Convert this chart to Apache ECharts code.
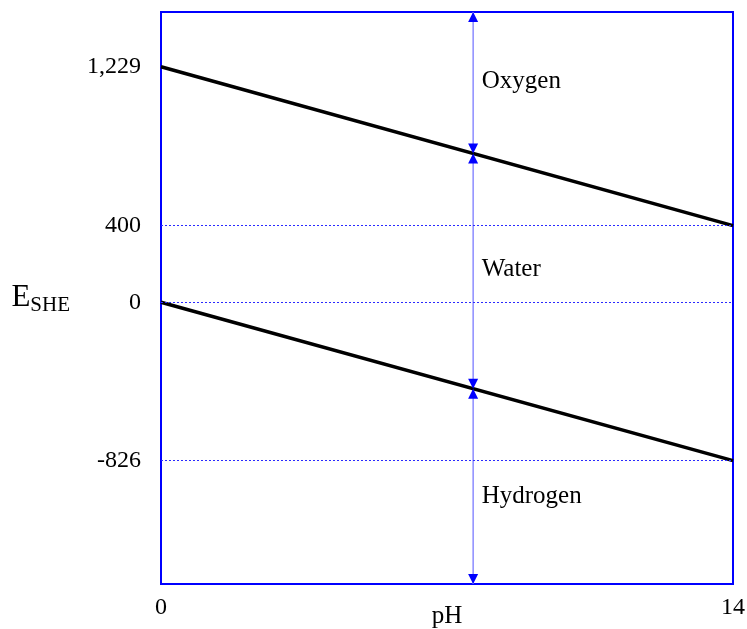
<!DOCTYPE html>
<html>
<head>
<meta charset="utf-8">
<script src="https://cdn.jsdelivr.net/npm/echarts@6/dist/echarts.min.js"></script>
<style>
  html, body { margin: 0; padding: 0; background: #ffffff; }
  #chart { width: 747px; height: 629px; }
</style>
</head>
<body>
<div id="chart"></div>
<script>
// pH range of the diagram
var phValues = [0, 14];
// Equilibrium potentials (mV vs SHE) at pH 0 and pH 14
var oxygenLine = [1229, 400];
var hydrogenLine = [0, -826];
// Labelled potentials on the E axis
var potentialTicks = [-826, 0, 400, 1229];
// Reference levels drawn as dotted guides
var guideLevels = [400, 0, -826];
// Vertical marker at a chosen pH with its crossing points
var markerPh = 7.64;
var markerOxygen = 777;
var markerHydrogen = -451;
// Region names and where they are written
var regionNames = ['Oxygen', 'Water', 'Hydrogen'];
var regionPotentials = [1151, 170, -1013];
var regionPh = 7.85;

var yMin = -1470, yMax = 1515;
var FONT = 'Liberation Serif';
var BLUE = '#0000ff';

function fmt(v) {
  return v.toLocaleString('en-US');
}

var chart = echarts.init(document.getElementById('chart'), null, { renderer: 'canvas' });

// arrowheads: tips placed at the marker ends and at the crossings
var upTips = [[markerPh, yMax], [markerPh, markerOxygen], [markerPh, markerHydrogen]];
var downTips = [[markerPh, markerOxygen], [markerPh, markerHydrogen], [markerPh, yMin]];

var option = {
  animation: false,
  backgroundColor: '#ffffff',
  grid: {
    left: 161, top: 12, right: 14, bottom: 45,
    outerBoundsMode: 'none', containLabel: false,
    show: true, borderColor: BLUE, borderWidth: 2, backgroundColor: 'transparent'
  },
  xAxis: {
    type: 'value',
    min: phValues[0], max: phValues[1], interval: 14,
    name: 'pH', nameLocation: 'middle', nameGap: 20, nameMoveOverlap: false,
    nameTextStyle: { fontFamily: FONT, fontSize: 25, color: '#000' },
    axisLine: { show: false },
    axisTick: { show: false },
    splitLine: { show: false },
    axisLabel: { fontFamily: FONT, fontSize: 24, color: '#000', margin: 12 }
  },
  yAxis: {
    type: 'value',
    min: yMin, max: yMax,
    name: '{e|E}{s|SHE}', nameLocation: 'middle', nameGap: 91, nameRotate: 0, nameMoveOverlap: false,
    nameTextStyle: {
      rich: {
        e: { fontFamily: FONT, fontSize: 31, color: '#000', verticalAlign: 'bottom' },
        s: { fontFamily: FONT, fontSize: 21, color: '#000', verticalAlign: 'bottom', padding: [0, 0, -2, 0] }
      }
    },
    axisLine: { show: false },
    axisTick: { show: false },
    splitLine: { show: false },
    axisLabel: {
      customValues: potentialTicks,
      formatter: function (v) { return fmt(v); },
      fontFamily: FONT, fontSize: 24, color: '#000', margin: 20
    }
  },
  series: [
    {
      // dotted guide levels
      type: 'line', data: [], silent: true,
      markLine: {
        symbol: 'none', silent: true, label: { show: false },
        lineStyle: { color: '#2a2aff', type: [2, 2], width: 1, opacity: 1 },
        data: guideLevels.map(function (v) { return { yAxis: v }; })
      }
    },
    {
      // vertical marker line
      type: 'line', symbol: 'none', silent: true, z: 3,
      lineStyle: { color: '#8c8cff', width: 1.5 },
      data: [[markerPh, yMin], [markerPh, yMax]]
    },
    {
      type: 'line', symbol: 'none', silent: true, z: 4,
      lineStyle: { color: '#000', width: 3.5 },
      data: phValues.map(function (p, i) { return [p, oxygenLine[i]]; })
    },
    {
      type: 'line', symbol: 'none', silent: true, z: 4,
      lineStyle: { color: '#000', width: 3.5 },
      data: phValues.map(function (p, i) { return [p, hydrogenLine[i]]; })
    },
    {
      type: 'scatter', symbol: 'triangle', symbolSize: [10, 10], symbolOffset: [0, 5],
      clip: false, silent: true, z: 5,
      itemStyle: { color: BLUE, opacity: 1 },
      data: upTips
    },
    {
      type: 'scatter', symbol: 'triangle', symbolSize: [10, 10], symbolRotate: 180, symbolOffset: [0, -5],
      clip: false, silent: true, z: 5,
      itemStyle: { color: BLUE, opacity: 1 },
      data: downTips
    },
    {
      type: 'scatter', symbolSize: 0, silent: true, z: 6,
      itemStyle: { opacity: 1 },
      label: {
        show: true, position: 'right', distance: 0,
        formatter: function (p) { return p.name; },
        fontFamily: FONT, fontSize: 25, color: '#000', opacity: 1
      },
      data: regionNames.map(function (n, i) { return { name: n, value: [regionPh, regionPotentials[i]] }; })
    }
  ]
};

chart.setOption(option);
</script>
</body>
</html>
